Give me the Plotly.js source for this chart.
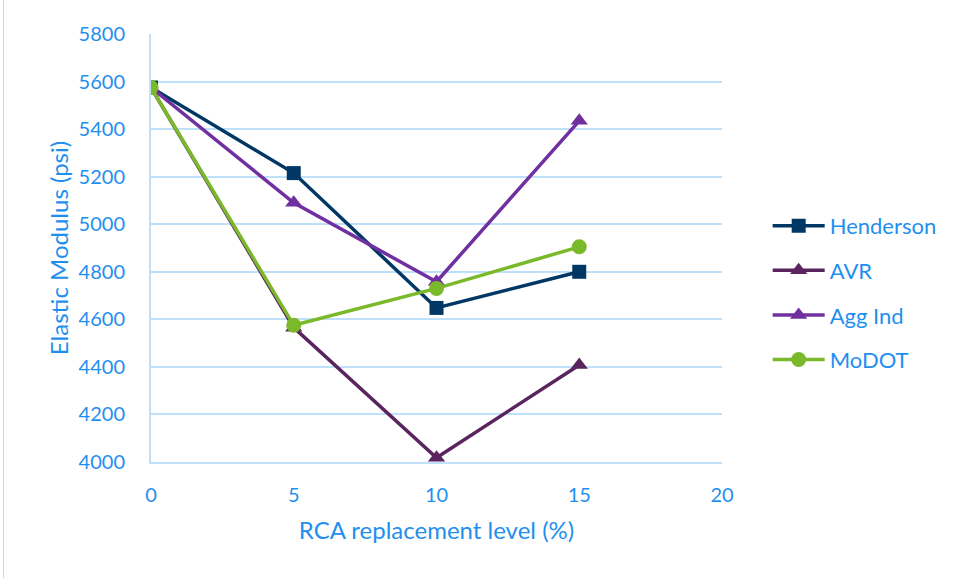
<!DOCTYPE html>
<html>
<head>
<meta charset="utf-8">
<script src="https://cdn.plot.ly/plotly-3.0.1.min.js"></script>
<style>
  html, body { margin: 0; padding: 0; background: #fff; }
  #chart { width: 956px; height: 578px; position: relative; }
  #frame { position: absolute; left: 3px; top: 0; width: 0; height: 578px; border-left: 1px solid #BDDCF5; }
</style>
</head>
<body>
<div id="frame"></div>
<div id="chart"></div>
<script>
// RCA replacement level (%)
const replacement = [0, 5, 10, 15];

// Elastic modulus (psi) for each aggregate source
const henderson = [5575, 5215, 4648, 4800];
const avr       = [5575, 4565, 4018, 4408];
const aggInd    = [5575, 5090, 4758, 5435];
const modot     = [5575, 4575, 4730, 4905];

const seriesNames = ['Henderson', 'AVR', 'Agg Ind', 'MoDOT'];

const textBlue = '#1F8FEF';
const gridBlue = '#BFE0FA';
const font = 'Lato, "Open Sans", sans-serif';

function series(name, ys, color, symbol, size, group) {
  return {
    x: replacement, y: ys, name: name, type: 'scatter', mode: 'lines+markers',
    legendgroup: group,
    line: { color: color, width: 3.5 },
    marker: { color: color, symbol: symbol, size: size, line: { width: 0 } }
  };
}

const traces = [
  series(seriesNames[0], henderson, '#003764', 'square', 14, 'g1'),
  series(seriesNames[1], avr, '#5A255E', 'triangle-up', 15, 'g2'),
  series(seriesNames[2], aggInd, '#7030A0', 'triangle-up', 15, 'g3'),
  series(seriesNames[3], modot, '#7AB929', 'circle', 15, 'g4')
];

const layout = {
  width: 956, height: 578,
  margin: { l: 151, r: 234, t: 34, b: 116 },
  paper_bgcolor: 'rgba(0,0,0,0)', plot_bgcolor: '#fff',
  font: { family: font, color: textBlue, size: 20 },
  xaxis: {
    range: [0, 20], tickvals: [0, 5, 10, 15, 20],
    showgrid: false, zeroline: false,
    showline: true, linecolor: gridBlue, linewidth: 2,
    ticks: '', ticklabelstandoff: 14,
    tickfont: { size: 20, color: textBlue },
    title: { text: 'RCA replacement level (%)', font: { size: 24, color: textBlue }, standoff: 17 }
  },
  yaxis: {
    range: [4000, 5800], dtick: 200,
    showgrid: true, gridcolor: gridBlue, gridwidth: 2,
    zeroline: false, showline: true, linecolor: gridBlue, linewidth: 2,
    ticks: '', ticklabelstandoff: 20,
    tickfont: { size: 20, color: textBlue },
    title: { text: 'Elastic Modulus (psi)', font: { size: 24, color: textBlue }, standoff: 3 }
  },
  showlegend: true,
  legend: {
    x: 1.08, xanchor: 'left', y: 0.395, yanchor: 'middle',
    traceorder: 'grouped', tracegroupgap: 13, itemwidth: 52,
    font: { size: 22, color: textBlue },
    bgcolor: 'rgba(0,0,0,0)'
  }
};

Plotly.newPlot('chart', traces, layout, { displayModeBar: false, staticPlot: true });
</script>
</body>
</html>
